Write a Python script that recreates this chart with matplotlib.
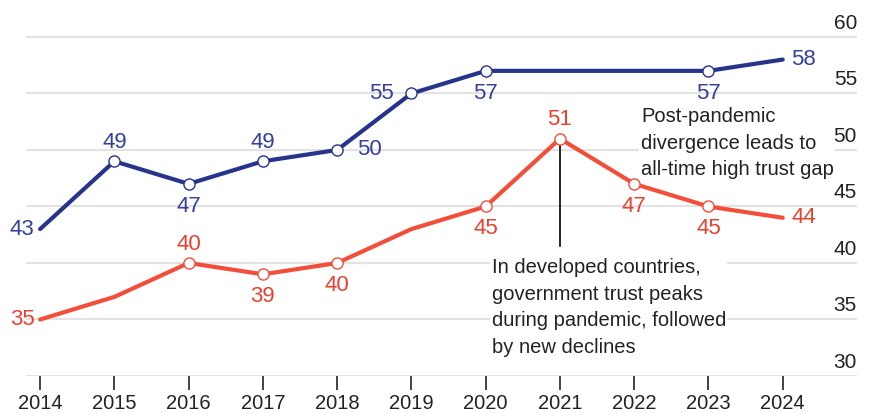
import matplotlib.pyplot as plt
import numpy as np

plt.rcParams['font.family'] = ['Liberation Sans', 'DejaVu Sans']

years = np.arange(2014, 2025)
developing = [43, 49, 47, 49, 50, 55, 57, 57, 57, 57, 58]
developed = [35, 37, 40, 39, 40, 43, 45, 51, 47, 45, 44]
yticks = [30, 35, 40, 45, 50, 55, 60]

# which points get a circle marker / a value label, and where the label goes
blue_marks = [1, 2, 3, 4, 5, 6, 9]
red_marks = [2, 3, 4, 6, 7, 8, 9]
blue_labels = {0: 'left', 1: 'above', 2: 'below', 3: 'above', 4: 'far_right',
               5: 'far_left', 6: 'below', 9: 'below', 10: 'right'}
red_labels = {0: 'left', 2: 'above', 3: 'below', 4: 'below', 6: 'below',
              7: 'above', 8: 'below', 9: 'below', 10: 'right'}

blue = '#27348b'
blue_txt = '#34409a'
red = '#f24e3a'
red_txt = '#e8412f'
dark = '#222222'

fig = plt.figure(figsize=(8.7, 4.13), dpi=100)
ax = fig.add_axes([26 / 870, 1 - 376 / 413, (857 - 26) / 870, (376 - 20) / 413])
ax.set_xlim(2013.81, 2025.0)
ax.set_ylim(30, 61.5)

for v in yticks:
    ax.axhline(v, color='#e2e2e2', lw=1.5, zorder=0)
    ax.annotate(str(v), xy=(1.0, v), xycoords=('axes fraction', 'data'),
                xytext=(0, 3), textcoords='offset points',
                ha='right', va='bottom', fontsize=15, color=dark)

ax.plot(years, developing, color=blue, lw=3, solid_capstyle='round',
        marker='o', markevery=blue_marks, ms=8, mfc='white', mec=blue, mew=1, zorder=3)
ax.plot(years, developed, color=red, lw=3, solid_capstyle='round',
        marker='o', markevery=red_marks, ms=8, mfc='white', mec=red, mew=1, zorder=3)

offsets = {'left': ((-4, 0), 'right', 'center'),
           'right': ((6, 0), 'left', 'center'),
           'far_left': ((-13, 0), 'right', 'center'),
           'far_right': ((14, 0), 'left', 'center'),
           'above': ((0, 6), 'center', 'bottom'),
           'below': ((0, -8.5), 'center', 'top')}


def label_points(vals, labels, color):
    for i, pos in labels.items():
        off, ha, va = offsets[pos]
        ax.annotate(str(vals[i]), xy=(years[i], vals[i]), xytext=off,
                    textcoords='offset points', ha=ha, va=va,
                    fontsize=16, color=color, zorder=4)


label_points(developing, blue_labels, blue_txt)
label_points(developed, red_labels, red_txt)

# pandemic peak callout
ax.plot([2021, 2021], [51, 41.5], color='black', lw=1.2, zorder=2)
ax.text(2020.08, 40.4, 'In developed countries,\ngovernment trust peaks\nduring pandemic, followed\nby new declines',
        ha='left', va='top', fontsize=14.5, color=dark, linespacing=1.5,
        bbox=dict(facecolor='white', edgecolor='none', pad=1), zorder=2)
ax.text(2022.09, 53.8, 'Post-pandemic\ndivergence leads to\nall-time high trust gap',
        ha='left', va='top', fontsize=14.5, color=dark, linespacing=1.5,
        bbox=dict(facecolor='white', edgecolor='none', pad=1), zorder=2)

ax.set_xticks(years)
ax.set_xticklabels([str(y) for y in years], fontsize=14.5, color=dark)
ax.tick_params(axis='x', length=10, width=1.2, color=dark, pad=3)
ax.set_yticks([])
for s in ax.spines.values():
    s.set_visible(False)

plt.savefig('out.png', dpi=100)
plt.close(fig)
